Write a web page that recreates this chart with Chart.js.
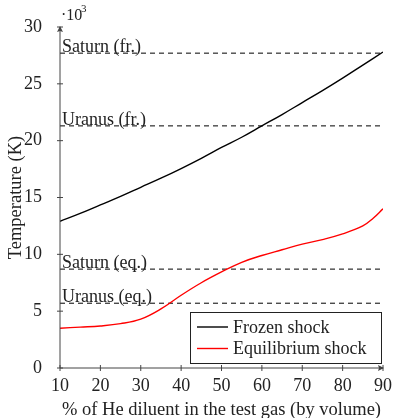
<!DOCTYPE html>
<html lang="en">
<head>
    <meta charset="UTF-8">
    <title>Shock temperature vs He diluent</title>
    <script src="https://cdn.jsdelivr.net/npm/chart.js"></script>
    <style>
        html, body { margin: 0; padding: 0; background: #fff; }
        #wrap { width: 395px; height: 418px; }
    </style>
</head>
<body>
    <div id="wrap"><canvas id="myChart"></canvas></div>

<script>
    // % He diluent (by volume), temperatures in 10^3 K
    const frozenX = [10, 15, 20, 25, 30, 35, 40, 45, 50, 55, 60, 65, 70, 75, 80, 85, 90];
    const frozenShock = [12.9, 13.6, 14.35, 15.1, 15.9, 16.7, 17.55, 18.45, 19.4, 20.3, 21.3, 22.3, 23.35, 24.4, 25.5, 26.65, 27.8];
    const equilibriumX = [10, 15, 20, 25, 30, 35, 40, 45, 50, 55, 60, 65, 70, 75, 80, 85, 87.5, 90];
    const equilibriumShock = [3.5, 3.6, 3.7, 3.9, 4.3, 5.2, 6.4, 7.5, 8.45, 9.3, 9.9, 10.4, 10.9, 11.3, 11.8, 12.5, 13.15, 14.0];

    const refLabels = ["Saturn (fr.)", "Uranus (fr.)", "Saturn (eq.)", "Uranus (eq.)"];
    const refTemps = [27.7, 21.3, 8.7, 5.7];

    const xTicks = [10, 20, 30, 40, 50, 60, 70, 80, 90];
    const yTicks = [0, 5, 10, 15, 20, 25, 30];

    const serif = "'Liberation Serif', 'DejaVu Serif', serif";
    const axisColor = "#444";

    function pts(xs, ys) {
        return xs.map(function (x, i) { return { x: x, y: ys[i] }; });
    }

    var datasets = [
        {
            label: "Frozen shock",
            data: pts(frozenX, frozenShock),
            borderColor: "#000",
            borderWidth: 1.4,
            pointRadius: 0,
            tension: 0.4,
            inLegend: true
        },
        {
            label: "Equilibrium shock",
            data: pts(equilibriumX, equilibriumShock),
            borderColor: "#ff0000",
            borderWidth: 1.4,
            pointRadius: 0,
            tension: 0.4,
            inLegend: true
        }
    ];

    for (var i = 0; i < refLabels.length; i++) {
        datasets.push({
            label: refLabels[i],
            data: [{ x: xTicks[0], y: refTemps[i] }, { x: xTicks[xTicks.length - 1], y: refTemps[i] }],
            borderColor: "#000",
            borderWidth: 1,
            borderDash: [5, 4],
            pointRadius: 0,
            isRef: true
        });
    }

    // axes with arrows, ticks across the line, ref labels, the x10^3 mark and the legend box
    const decor = {
        id: "decor",
        afterDatasetsDraw(chart) {
            const ctx = chart.ctx;
            const xs = chart.scales.x, ys = chart.scales.y;
            const a = chart.chartArea;
            ctx.save();

            // ref line labels
            ctx.fillStyle = "#222";
            ctx.font = "18px " + serif;
            ctx.textAlign = "left";
            ctx.textBaseline = "alphabetic";
            chart.data.datasets.forEach(function (ds) {
                if (!ds.isRef) return;
                ctx.fillText(ds.label, a.left + 2, ys.getPixelForValue(ds.data[0].y) - 1);
            });

            // axes
            ctx.strokeStyle = axisColor;
            ctx.fillStyle = axisColor;
            ctx.lineWidth = 1;
            ctx.beginPath();
            ctx.moveTo(a.left, a.bottom);
            ctx.lineTo(a.right, a.bottom);
            ctx.moveTo(a.left, a.bottom);
            ctx.lineTo(a.left, a.top);
            xTicks.forEach(function (v) {
                var px = xs.getPixelForValue(v);
                ctx.moveTo(px, a.bottom - 3);
                ctx.lineTo(px, a.bottom + 3);
            });
            yTicks.forEach(function (v) {
                var py = ys.getPixelForValue(v);
                ctx.moveTo(a.left - 3, py);
                ctx.lineTo(a.left + 3, py);
            });
            ctx.stroke();

            // arrow heads
            ctx.beginPath();
            ctx.moveTo(a.right + 1, a.bottom);
            ctx.lineTo(a.right - 5, a.bottom - 3);
            ctx.lineTo(a.right - 4, a.bottom);
            ctx.lineTo(a.right - 5, a.bottom + 3);
            ctx.closePath();
            ctx.moveTo(a.left, a.top - 1);
            ctx.lineTo(a.left - 3, a.top + 5);
            ctx.lineTo(a.left, a.top + 4);
            ctx.lineTo(a.left + 3, a.top + 5);
            ctx.closePath();
            ctx.fill();

            // x10^3
            ctx.fillStyle = "#222";
            ctx.font = "16px " + serif;
            ctx.fillText("\u00b710", a.left + 1, a.top - 7);
            ctx.font = "11px " + serif;
            ctx.fillText("3", a.left + 21, a.top - 15);

            // legend
            var bx = 190, by = 312, bw = 191, bh = 51;
            ctx.fillStyle = "#fff";
            ctx.fillRect(bx, by, bw, bh);
            ctx.strokeStyle = "#222";
            ctx.strokeRect(bx + 0.5, by + 0.5, bw, bh);
            ctx.font = "18px " + serif;
            ctx.textBaseline = "middle";
            var row = 0;
            chart.data.datasets.forEach(function (ds) {
                if (!ds.inLegend) return;
                var ly = by + 15 + row * 21.5;
                ctx.strokeStyle = ds.borderColor;
                ctx.lineWidth = 1.4;
                ctx.beginPath();
                ctx.moveTo(bx + 7, ly);
                ctx.lineTo(bx + 38, ly);
                ctx.stroke();
                ctx.fillStyle = "#222";
                ctx.fillText(ds.label, bx + 43, ly + 1);
                row++;
            });
            ctx.restore();
        }
    };

    const ctx = document.getElementById("myChart");
    new Chart(ctx, {
        type: "line",
        data: { datasets: datasets },
        options: {
            responsive: true,
            maintainAspectRatio: false,
            animation: false,
            layout: { padding: { top: 27, right: 12, left: 0, bottom: 0 } },
            plugins: {
                legend: { display: false },
                tooltip: { enabled: false }
            },
            scales: {
                x: {
                    type: "linear",
                    min: 10,
                    max: 90,
                    grid: { display: false },
                    border: { display: false },
                    ticks: {
                        stepSize: 10,
                        padding: -1,
                        color: "#222",
                        font: { family: serif, size: 18 }
                    },
                    title: {
                        display: true,
                        text: "% of He diluent in the test gas (by volume)",
                        color: "#222",
                        padding: { top: 0, bottom: -3 },
                        font: { family: serif, size: 18.5 }
                    },
                    afterFit: function (s) { s.height = 50; }
                },
                y: {
                    min: 0,
                    max: 30,
                    grid: { display: false },
                    border: { display: false },
                    ticks: {
                        stepSize: 5,
                        padding: 10,
                        color: "#222",
                        font: { family: serif, size: 18 }
                    },
                    title: {
                        display: true,
                        text: "Temperature (K)",
                        color: "#222",
                        padding: { top: 5, bottom: 0 },
                        font: { family: serif, size: 18.5 }
                    },
                    afterFit: function (s) { s.width = 60; }
                }
            }
        },
        plugins: [decor]
    });
</script>
</body>
</html>
